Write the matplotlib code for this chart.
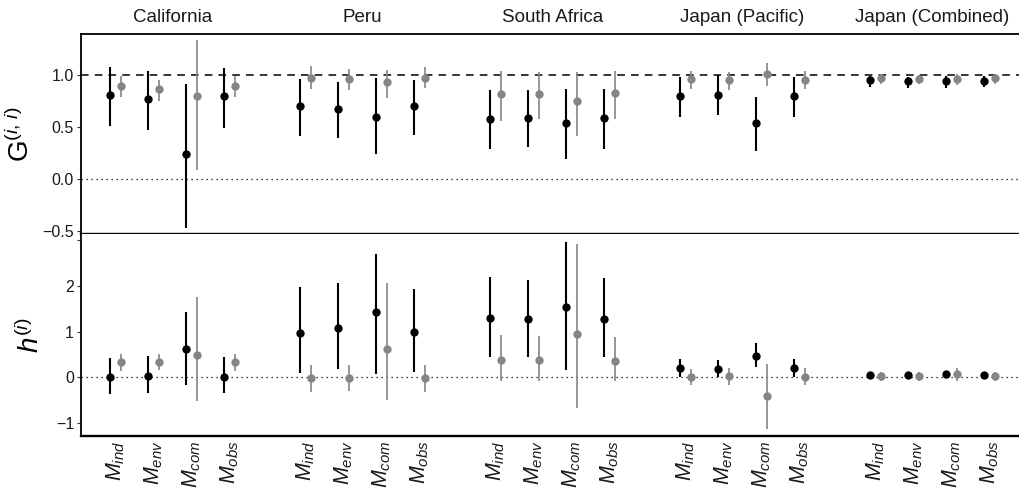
import numpy as np
import matplotlib
matplotlib.use('Agg')
import matplotlib.pyplot as plt

plt.rcParams['font.family'] = ['Liberation Sans', 'DejaVu Sans']
plt.rcParams['mathtext.fontset'] = 'custom'
plt.rcParams['mathtext.rm'] = 'Liberation Sans'
plt.rcParams['mathtext.it'] = 'Liberation Sans:italic'

regions = ['California', 'Peru', 'South Africa', 'Japan (Pacific)', 'Japan (Combined)']
models = [r'$M_{ind}$', r'$M_{env}$', r'$M_{com}$', r'$M_{obs}$']

# G^(i,i), black estimates (5 regions x 4 models, flattened)
g_blk_mid = [0.816, 0.777, 0.239, 0.800, 0.707, 0.680, 0.597, 0.704, 0.584, 0.594, 0.539, 0.587,
             0.800, 0.816, 0.542, 0.800, 0.952, 0.945, 0.945, 0.949]
g_blk_lo = [0.510, 0.474, -0.474, 0.494, 0.420, 0.397, 0.242, 0.426, 0.293, 0.313, 0.190, 0.287,
            0.603, 0.617, 0.274, 0.603, 0.887, 0.880, 0.880, 0.887]
g_blk_hi = [1.080, 1.040, 0.920, 1.075, 0.965, 0.932, 0.978, 0.952, 0.855, 0.855, 0.874, 0.868,
            0.984, 1.004, 0.790, 0.984, 0.990, 0.984, 0.990, 0.990]
# G^(i,i), grey estimates
g_gry_mid = [0.897, 0.874, 0.800, 0.897, 0.980, 0.965, 0.932, 0.980, 0.820, 0.820, 0.758, 0.830,
             0.965, 0.952, 1.010, 0.958, 0.971, 0.965, 0.965, 0.971]
g_gry_lo = [0.790, 0.758, 0.087, 0.790, 0.874, 0.860, 0.784, 0.880, 0.564, 0.578, 0.420, 0.584,
            0.874, 0.855, 0.894, 0.874, 0.913, 0.913, 0.907, 0.913]
g_gry_hi = [0.990, 0.958, 1.340, 0.990, 1.087, 1.060, 1.055, 1.080, 1.040, 1.030, 1.036, 1.040,
            1.040, 1.036, 1.120, 1.040, 1.010, 1.004, 1.010, 1.010]

# h^(i), black estimates
h_blk_mid = [0.000, 0.035, 0.618, 0.014, 0.975, 1.076, 1.426, 0.990, 1.295, 1.266, 1.535, 1.280,
             0.203, 0.190, 0.470, 0.203, 0.043, 0.050, 0.065, 0.043]
h_blk_lo = [-0.360, -0.336, -0.160, -0.350, 0.100, 0.190, 0.070, 0.116, 0.450, 0.450, 0.160, 0.436,
            0.014, 0.000, 0.218, 0.000, -0.015, 0.000, 0.000, -0.015]
h_blk_hi = [0.420, 0.465, 1.426, 0.436, 1.965, 2.066, 2.690, 1.935, 2.197, 2.124, 2.950, 2.180,
            0.410, 0.390, 0.756, 0.410, 0.100, 0.100, 0.130, 0.100]
# h^(i), grey estimates
h_gry_mid = [0.334, 0.340, 0.480, 0.334, -0.020, -0.010, 0.610, -0.015, 0.378, 0.378, 0.952, 0.356,
             0.014, 0.028, -0.410, 0.014, 0.022, 0.028, 0.072, 0.022]
h_gry_lo = [0.130, 0.160, -0.510, 0.130, -0.310, -0.290, -0.496, -0.310, -0.087, -0.073, -0.670, -0.087,
            -0.160, -0.160, -1.120, -0.160, -0.087, -0.073, -0.073, -0.087]
h_gry_hi = [0.510, 0.520, 1.750, 0.510, 0.260, 0.275, 2.050, 0.260, 0.930, 0.900, 2.920, 0.887,
            0.190, 0.200, 0.290, 0.200, 0.116, 0.116, 0.200, 0.116]

# x positions: 4 models per region, one empty slot between regions
pos = np.array([g * 5 + m for g in range(len(regions)) for m in range(len(models))], dtype=float)
dodge = 0.15
blk = '#000000'
gry = '#858585'

fig = plt.figure(figsize=(10.19, 4.93), dpi=100)
W, H = 1019, 493
ax1 = fig.add_axes([81 / W, 1 - 234 / H, (W - 81) / W, 200 / H])
ax2 = fig.add_axes([81 / W, 1 - 436 / H, (W - 81) / W, 202 / H])


def draw(ax, bm, bl, bh, gm, gl, gh):
    ax.vlines(pos - dodge, bl, bh, color=blk, lw=1.5, zorder=3)
    ax.scatter(pos - dodge, bm, s=36, color=blk, zorder=4, linewidths=0)
    ax.vlines(pos + dodge, gl, gh, color=gry, lw=1.2, zorder=3)
    ax.scatter(pos + dodge, gm, s=36, color=gry, zorder=4, linewidths=0)


draw(ax1, g_blk_mid, g_blk_lo, g_blk_hi, g_gry_mid, g_gry_lo, g_gry_hi)
draw(ax2, h_blk_mid, h_blk_lo, h_blk_hi, h_gry_mid, h_gry_lo, h_gry_hi)

ax1.axhline(1.0, color='black', lw=1.1, ls=(0, (5, 4)), zorder=1)
for ax in (ax1, ax2):
    ax.axhline(0.0, color='black', lw=0.9, ls=(0, (1, 3)), zorder=1)
    ax.set_xlim(-0.91, 23.78)
    ax.spines['right'].set_visible(False)
    ax.spines['left'].set_linewidth(1.3)
    ax.spines['bottom'].set_linewidth(1.7)
    ax.tick_params(axis='y', direction='out', length=3, width=0.8, color='#333333',
                   labelsize=11.5, labelcolor='#1a1a1a', pad=2)

ax1.set_ylim(-0.53, 1.40)
ax1.set_yticks([-0.5, 0.0, 0.5, 1.0])
ax1.set_yticklabels(['\u22120.5', '0.0', '0.5', '1.0'])
ax1.spines['top'].set_linewidth(1.3)
ax1.set_xticks([])

ax2.set_ylim(-1.28, 3.13)
ax2.set_yticks([-1, 0, 1, 2, 3])
ax2.set_yticklabels(['\u22121', '0', '1', '2', ''])
ax2.spines['top'].set_visible(False)

ax2.set_xticks(pos)
ax2.set_xticklabels(models * len(regions), rotation=90, fontsize=15.5, color='#1a1a1a')
ax2.tick_params(axis='x', length=0, pad=3)

ax1.set_ylabel(r'$\mathrm{G}^{(i,\,i)}$', fontsize=20, labelpad=5)
ax2.set_ylabel(r'$h^{(i)}$', fontsize=20, labelpad=8)

for g, name in enumerate(regions):
    ax1.text(g * 5 + 1.5, 1.04, name, transform=ax1.get_xaxis_transform(),
             ha='center', va='bottom', fontsize=13.5, color='#1a1a1a')

fig.savefig('out.png', dpi=100)
